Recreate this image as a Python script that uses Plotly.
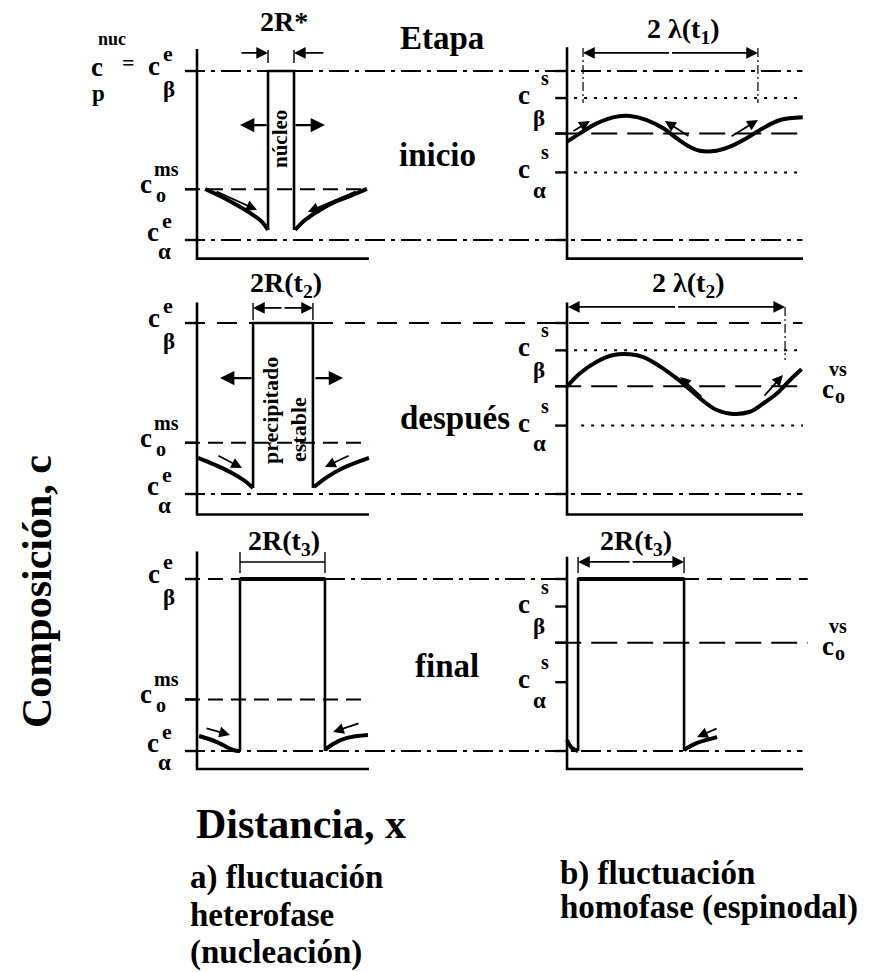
import plotly.graph_objects as go

W, H = 870, 972

# ---------------------------------------------------------------------------
# DATA  (composition in units where c_alpha^e = 0 and c_beta^e = 1;
#        distance in panel units, every panel runs from 0 to 1)
# ---------------------------------------------------------------------------
C_ALPHA_E = 0.0
C_O_MS = 0.30
C_ALPHA_S = 0.40
C_O_VS = 0.63
C_BETA_S = 0.84
C_BETA_E = 1.0

STAGES = ["inicio", "después", "final"]

AXIS_BOTTOM = [-0.11, -0.12, -0.105]
LEFT_AXIS_TOP = [1.13, 1.12, 1.16]
RIGHT_AXIS_TOP = [1.14, 1.12, 1.13]
PANEL_END = 1.0
SPAN_END = 3.52          # lines that run across both panels (left-panel units)
LEFT_TICK = -0.07
RIGHT_TICK = -0.05
DOT_START = 0.03

# nucleus / precipitate of the nucleation panels (rows 1..3)
PRECIP_X0 = [0.413, 0.326, 0.25]
PRECIP_X1 = [0.564, 0.674, 0.744]
PRECIP_FOOT = [0.059, 0.035, 0.0]
# final precipitate of the spinodal panel
SPIN_PRECIP_X0 = 0.047
SPIN_PRECIP_X1 = 0.496

# matrix composition profiles next to the precipitate
PROF1_L_X = [0.047, 0.134, 0.221, 0.308, 0.378, 0.413]
PROF1_L_Y = [0.302, 0.260, 0.213, 0.160, 0.107, 0.059]
PROF1_R_X = [0.570, 0.628, 0.715, 0.802, 0.890, 0.988]
PROF1_R_Y = [0.059, 0.118, 0.178, 0.225, 0.260, 0.302]
PROF2_L_X = [0.006, 0.105, 0.192, 0.279, 0.326]
PROF2_L_Y = [0.211, 0.170, 0.129, 0.076, 0.035]
PROF2_R_X = [0.680, 0.756, 0.849, 1.0]
PROF2_R_Y = [0.041, 0.099, 0.152, 0.211]
PROF3_L_X = [0.012, 0.116, 0.209, 0.25]
PROF3_L_Y = [0.087, 0.052, 0.006, 0.0]
PROF3_R_X = [0.744, 0.791, 0.872, 0.994]
PROF3_R_Y = [0.006, 0.041, 0.076, 0.093]

# spinodal composition waves
WAVE1_X = [0.0, 0.055, 0.126, 0.211, 0.267, 0.338, 0.408, 0.465, 0.520,
           0.562, 0.633, 0.690, 0.761, 0.830, 0.903, 0.999]
WAVE1_Y = [0.582, 0.631, 0.690, 0.730, 0.734, 0.710, 0.661, 0.602, 0.552,
           0.528, 0.528, 0.552, 0.602, 0.661, 0.710, 0.726]
WAVE2_X = [0.0, 0.055, 0.126, 0.197, 0.267, 0.324, 0.395, 0.465, 0.507,
           0.564, 0.634, 0.705, 0.775, 0.832, 0.889, 0.945, 0.994]
WAVE2_Y = [0.628, 0.706, 0.774, 0.813, 0.817, 0.800, 0.745, 0.676, 0.628,
           0.559, 0.491, 0.468, 0.481, 0.530, 0.588, 0.667, 0.729]
SPIN3_L_X = [0.0, 0.021, 0.047]
SPIN3_L_Y = [0.064, 0.017, 0.0]
SPIN3_R_X = [0.496, 0.551, 0.636]
SPIN3_R_Y = [0.006, 0.047, 0.081]

# diffusion-flux arrows (x0, y0, x1, y1) ; head at (x1, y1)
FLUX_LEFT_1 = [(0.105, 0.290, 0.349, 0.178), (0.930, 0.290, 0.645, 0.166)]
FLUX_LEFT_2 = [(0.116, 0.228, 0.262, 0.152), (0.890, 0.228, 0.744, 0.158)]
FLUX_LEFT_3 = [(0.047, 0.134, 0.192, 0.093), (0.948, 0.163, 0.791, 0.110)]
FLUX_RIGHT_1 = [(0.021, 0.639, 0.097, 0.704), (0.521, 0.609, 0.415, 0.704),
                (0.691, 0.609, 0.809, 0.710)]
FLUX_RIGHT_2 = [(0.576, 0.561, 0.479, 0.684), (0.831, 0.567, 0.915, 0.696)]
FLUX_RIGHT_3 = [(0.640, 0.134, 0.551, 0.081)]

# interface-growth arrows (y level, from, to)
GROWTH_Y = [0.68, 0.678]
GROWTH_L = [(0.413, 0.25), (0.326, 0.134)]
GROWTH_R = [(0.564, 0.744), (0.680, 0.849)]

# dimension markers
DIM_Y_LEFT = [1.107, 1.088, 1.099]
DIM_TICK_TOP_LEFT = [1.124, 1.117, 1.157]
DIM_TICK_BOT_LEFT = [1.047, 1.018, 1.035]
DIM1_OUT = (0.25, 0.744)                 # 2R* arrows come from outside
LAMBDA1_X = (0.068, 0.809)
LAMBDA1_Y = 1.107
LAMBDA1_TICK = (1.136, 0.811)
LAMBDA2_X = (0.004, 0.924)
LAMBDA2_Y = 1.094
LAMBDA2_TICK = (1.094, 0.784)
DIM3R_Y = 1.099
DIM3R_TICK = (1.128, 1.035)

# ---------------------------------------------------------------------------
# LAYOUT GEOMETRY (pixels)
# ---------------------------------------------------------------------------
ROW_ZERO_PX = [240, 494, 751]
ROW_SCALE_PX = [169, 171, 172]
ROW_BAND_PX = [(0, 270), (270, 525), (525, 972)]
LEFT_ORIGIN_PX, LEFT_SCALE_PX = 197, 172
RIGHT_ORIGIN_PX, RIGHT_SCALE_PX = 567, 236

FONT = "Liberation Serif, Times New Roman, Times, DejaVu Serif, serif"
YA = ["y", "y2", "y3"]
XL, XR = "x", "x2"

fig = go.Figure()


def line(xs, ys, xa, ya, width=2.0, dash="solid", shape="linear"):
    fig.add_trace(go.Scatter(
        x=list(xs), y=list(ys), xaxis=xa, yaxis=ya, mode="lines",
        line=dict(color="black", width=width, dash=dash, shape=shape,
                  smoothing=1.0 if shape == "spline" else None),
        hoverinfo="skip", showlegend=False))


annotations = []


def arrow(x0, y0, x1, y1, xa, ya, width=2.0, head=2, size=1.0):
    annotations.append(dict(
        x=x1, y=y1, ax=x0, ay=y0, xref=xa, yref=ya, axref=xa, ayref=ya,
        text="", showarrow=True, arrowhead=head, arrowsize=size,
        arrowwidth=width, arrowcolor="black", standoff=0, startstandoff=0))


def txt(text, x, y, xa, ya, size, dx=0, dy=0, angle=0, xanchor="center"):
    annotations.append(dict(
        text="<b>" + text + "</b>", x=x, y=y, xref=xa, yref=ya, xshift=dx,
        yshift=-dy, showarrow=False, xanchor=xanchor, yanchor="middle",
        textangle=angle,
        font=dict(family=FONT, size=size, color="black")))


def ptxt(text, px, py, size, angle=0, xanchor="center"):
    txt(text, px / W, 1 - py / H, "paper", "paper", size, angle=angle,
        xanchor=xanchor)


DASHDOT = "20px,6px,4px,6px"
DASH_MS = "15px,8px"
DASH_LONG = "26px,10px"
DASH_BETA2 = "20px,12px"
DOT = "3px,7px"

for r in range(3):
    ya = YA[r]
    # ---- axes of both panels
    line([0, 0, PANEL_END], [LEFT_AXIS_TOP[r], AXIS_BOTTOM[r], AXIS_BOTTOM[r]],
         XL, ya, width=2.6)
    line([0, 0, PANEL_END], [RIGHT_AXIS_TOP[r], AXIS_BOTTOM[r], AXIS_BOTTOM[r]],
         XR, ya, width=2.6)
    for lv in (C_BETA_E, C_O_MS, C_ALPHA_E):
        line([LEFT_TICK, 0], [lv, lv], XL, ya, width=2.4)
    for lv in (C_BETA_E, C_BETA_S, C_O_VS, C_ALPHA_S, C_ALPHA_E):
        line([RIGHT_TICK, 0], [lv, lv], XR, ya, width=2.4)

    # ---- equilibrium lines spanning both panels
    line([LEFT_TICK, SPAN_END], [C_ALPHA_E] * 2, XL, ya, width=2, dash=DASHDOT)
    if r == 0:
        line([LEFT_TICK, SPAN_END], [C_BETA_E] * 2, XL, ya, width=2, dash=DASHDOT)
    elif r == 1:
        line([LEFT_TICK, SPAN_END], [C_BETA_E] * 2, XL, ya, width=2,
             dash=DASH_BETA2)
    else:
        line([LEFT_TICK, PRECIP_X0[2]], [C_BETA_E] * 2, XL, ya, width=2,
             dash=DASH_MS)
        line([PRECIP_X1[2], (RIGHT_ORIGIN_PX - LEFT_ORIGIN_PX) / LEFT_SCALE_PX],
             [C_BETA_E] * 2, XL, ya, width=2, dash=DASHDOT)
        line([SPIN_PRECIP_X1, 1.02], [C_BETA_E] * 2, XR, ya, width=2,
             dash=DASH_MS)

    # ---- metastable alloy composition
    line([LEFT_TICK, PANEL_END], [C_O_MS] * 2, XL, ya, width=2, dash=DASH_MS)
    # ---- unstable alloy composition and spinodal limits
    line([RIGHT_TICK, 1.02 if r == 2 else PANEL_END], [C_O_VS] * 2, XR, ya,
         width=2, dash=DASH_LONG)
    if r < 2:
        line([DOT_START, PANEL_END], [C_BETA_S] * 2, XR, ya, width=2, dash=DOT)
        line([DOT_START if r == 0 else 0.06, PANEL_END], [C_ALPHA_S] * 2, XR, ya,
             width=2, dash=DOT)

    # ---- precipitate
    x0, x1, ft = PRECIP_X0[r], PRECIP_X1[r], PRECIP_FOOT[r]
    line([x0, x0, x1, x1], [ft, C_BETA_E, C_BETA_E, ft], XL, ya, width=2.6)
    if r == 2:
        line([x0, x1], [C_BETA_E] * 2, XL, ya, width=4)

# profiles, nucleation side
for r, (lx, ly, rx, ry) in enumerate([
        (PROF1_L_X, PROF1_L_Y, PROF1_R_X, PROF1_R_Y),
        (PROF2_L_X, PROF2_L_Y, PROF2_R_X, PROF2_R_Y),
        (PROF3_L_X, PROF3_L_Y, PROF3_R_X, PROF3_R_Y)]):
    line(lx, ly, XL, YA[r], width=4, shape="spline")
    line(rx, ry, XL, YA[r], width=4, shape="spline")

# spinodal side
line(WAVE1_X, WAVE1_Y, XR, "y", width=4, shape="spline")
line(WAVE2_X, WAVE2_Y, XR, "y2", width=4, shape="spline")
line([SPIN_PRECIP_X0, SPIN_PRECIP_X0, SPIN_PRECIP_X1, SPIN_PRECIP_X1],
     [C_ALPHA_E, C_BETA_E, C_BETA_E, C_ALPHA_E], XR, "y3", width=2.6)
line([SPIN_PRECIP_X0, SPIN_PRECIP_X1], [C_BETA_E] * 2, XR, "y3", width=4)
line(SPIN3_L_X, SPIN3_L_Y, XR, "y3", width=4, shape="spline")
line(SPIN3_R_X, SPIN3_R_Y, XR, "y3", width=4, shape="spline")

# flux arrows
for r, lst in enumerate([FLUX_LEFT_1, FLUX_LEFT_2, FLUX_LEFT_3]):
    for (a, b, c, d) in lst:
        arrow(a, b, c, d, XL, YA[r], width=1.8, head=2, size=1.2)
for r, lst in enumerate([FLUX_RIGHT_1, FLUX_RIGHT_2, FLUX_RIGHT_3]):
    for (a, b, c, d) in lst:
        arrow(a, b, c, d, XR, YA[r], width=1.8, head=2, size=1.2)

# growth arrows
for r in range(2):
    arrow(GROWTH_L[r][0], GROWTH_Y[r], GROWTH_L[r][1], GROWTH_Y[r], XL, YA[r],
          width=2.2, head=2, size=1.3)
    arrow(GROWTH_R[r][0], GROWTH_Y[r], GROWTH_R[r][1], GROWTH_Y[r], XL, YA[r],
          width=2.2, head=2, size=1.3)

# dimension markers (left panels)
for r in range(3):
    x0, x1 = PRECIP_X0[r], PRECIP_X1[r]
    for xx in (x0, x1):
        line([xx, xx], [DIM_TICK_TOP_LEFT[r], DIM_TICK_BOT_LEFT[r]], XL, YA[r],
             width=1.4)
    yy = DIM_Y_LEFT[r]
    if r == 0:
        arrow(DIM1_OUT[0], yy, x0, yy, XL, "y", width=1.8, head=2, size=1.3)
        arrow(DIM1_OUT[1], yy, x1, yy, XL, "y", width=1.8, head=2, size=1.3)
    elif r == 1:
        mid = (x0 + x1) / 2
        arrow(mid, yy, x0, yy, XL, "y2", width=1.8, head=2, size=1.3)
        arrow(mid, yy, x1, yy, XL, "y2", width=1.8, head=2, size=1.3)
    else:
        line([x0, x1], [yy, yy], XL, "y3", width=1.4)

# dimension markers (right panels)
for xx in LAMBDA1_X:
    line([xx, xx], list(LAMBDA1_TICK), XR, "y", width=1.2, dash="9px,3px,2px,3px")
mid = sum(LAMBDA1_X) / 2
arrow(mid, LAMBDA1_Y, LAMBDA1_X[0], LAMBDA1_Y, XR, "y", width=1.8, head=2, size=1.3)
arrow(mid, LAMBDA1_Y, LAMBDA1_X[1], LAMBDA1_Y, XR, "y", width=1.8, head=2, size=1.3)
line([LAMBDA2_X[1]] * 2, list(LAMBDA2_TICK), XR, "y2", width=1.2,
     dash="9px,3px,2px,3px")
mid = sum(LAMBDA2_X) / 2
arrow(mid, LAMBDA2_Y, LAMBDA2_X[0], LAMBDA2_Y, XR, "y2", width=1.8, head=2, size=1.3)
arrow(mid, LAMBDA2_Y, LAMBDA2_X[1], LAMBDA2_Y, XR, "y2", width=1.8, head=2, size=1.3)
for xx in (SPIN_PRECIP_X0, SPIN_PRECIP_X1):
    line([xx, xx], list(DIM3R_TICK), XR, "y3", width=1.4)
mid = (SPIN_PRECIP_X0 + SPIN_PRECIP_X1) / 2
arrow(mid, DIM3R_Y, SPIN_PRECIP_X0, DIM3R_Y, XR, "y3", width=1.8, head=2, size=1.3)
arrow(mid, DIM3R_Y, SPIN_PRECIP_X1, DIM3R_Y, XR, "y3", width=1.8, head=2, size=1.3)

# ---------------------------------------------------------------------------
# level labels (pixel offsets from the tick at the axis)
# ---------------------------------------------------------------------------
LBL_BETA_E = [("c", -43, -5, 27), ("e", -29, -18, 22), ("β", -28, 18, 23)]
LBL_O_MS = [("c", -51, -5, 27), ("ms", -31, -20, 20), ("o", -36, 6, 20)]
LBL_ALPHA_E = [("c", -44, -8, 27), ("e", -30, -20, 22), ("α", -33, 11, 23)]
LBL_NUC = [("nuc", -85, -32, 18), ("c", -100, -4, 27), ("p", -99, 22, 23),
           ("=", -69, -9, 22)]
LBL_BETA_S = [("c", -43, -3, 27), ("s", -22, -20, 20), ("β", -28, 20, 23)]
LBL_ALPHA_S = [("c", -43, -3, 27), ("s", -22, -20, 20), ("α", -28, 18, 23)]
LBL_O_VS = [("c", 25, 3, 27), ("vs", 35, -17, 20), ("o", 37, 10, 20)]

for r in range(3):
    ya = YA[r]
    for parts, lv in ((LBL_BETA_E, C_BETA_E), (LBL_O_MS, C_O_MS),
                      (LBL_ALPHA_E, C_ALPHA_E)):
        for (t, dx, dy, s) in parts:
            txt(t, 0, lv, XL, ya, s, dx=dx, dy=dy)
    for parts, lv in ((LBL_BETA_S, C_BETA_S), (LBL_ALPHA_S, C_ALPHA_S)):
        for (t, dx, dy, s) in parts:
            txt(t, 0, lv, XR, ya, s, dx=dx, dy=dy)
    if r > 0:
        for (t, dx, dy, s) in LBL_O_VS:
            txt(t, PANEL_END, C_O_VS, XR, ya, s, dx=dx, dy=dy)
for (t, dx, dy, s) in LBL_NUC:
    txt(t, 0, C_BETA_E, XL, "y", s, dx=dx, dy=dy)

# ---------------------------------------------------------------------------
# free text (pixel positions)
# ---------------------------------------------------------------------------
ptxt("Etapa", 398, 38, 33, xanchor="left")
ptxt(STAGES[0], 397, 155, 33, xanchor="left")
ptxt(STAGES[1], 398, 418, 33, xanchor="left")
ptxt(STAGES[2], 413, 666, 33, xanchor="left")
ptxt("2R*", 284, 22, 28)
ptxt("2 λ(t<sub>1</sub>)", 683, 30, 28)
ptxt("2R(t<sub>2</sub>)", 286, 285, 28)
ptxt("2 λ(t<sub>2</sub>)", 688, 285, 28)
ptxt("2R(t<sub>3</sub>)", 284, 542, 28)
ptxt("2R(t<sub>3</sub>)", 636, 542, 28)
ptxt("núcleo", 280, 139, 21, angle=-90)
ptxt("precipitado", 270, 411, 22, angle=-90)
ptxt("estable", 298, 430, 22, angle=-90)
ptxt("Composición, c", 37, 592, 42, angle=-90)
ptxt("Distancia, x", 194, 824, 42, xanchor="left")
ptxt("a) fluctuación", 188, 877, 33, xanchor="left")
ptxt("heterofase", 188, 915, 33, xanchor="left")
ptxt("(nucleación)", 188, 952, 33, xanchor="left")
ptxt("b) fluctuación", 558, 873, 33, xanchor="left")
ptxt("homofase (espinodal)", 558, 907, 33, xanchor="left")

# ---------------------------------------------------------------------------
# axes
# ---------------------------------------------------------------------------
hidden = dict(visible=False, showgrid=False, zeroline=False, fixedrange=True)
layout_axes = dict(
    xaxis=dict(domain=[0, 1], anchor="y",
               range=[-LEFT_ORIGIN_PX / LEFT_SCALE_PX,
                      (W - LEFT_ORIGIN_PX) / LEFT_SCALE_PX], **hidden),
    xaxis2=dict(domain=[0, 1], anchor="y",
                range=[-RIGHT_ORIGIN_PX / RIGHT_SCALE_PX,
                       (W - RIGHT_ORIGIN_PX) / RIGHT_SCALE_PX], **hidden),
)
for r in range(3):
    top, bot = ROW_BAND_PX[r]
    z, s = ROW_ZERO_PX[r], ROW_SCALE_PX[r]
    key = "yaxis" if r == 0 else f"yaxis{r + 1}"
    layout_axes[key] = dict(domain=[1 - bot / H, 1 - top / H], anchor="x",
                            range=[(z - bot) / s, (z - top) / s], **hidden)

fig.update_layout(
    width=W, height=H, margin=dict(l=0, r=0, t=0, b=0),
    paper_bgcolor="white", plot_bgcolor="rgba(0,0,0,0)",
    showlegend=False, hovermode=False, annotations=annotations,
    **layout_axes)

fig.write_html("out.html")
